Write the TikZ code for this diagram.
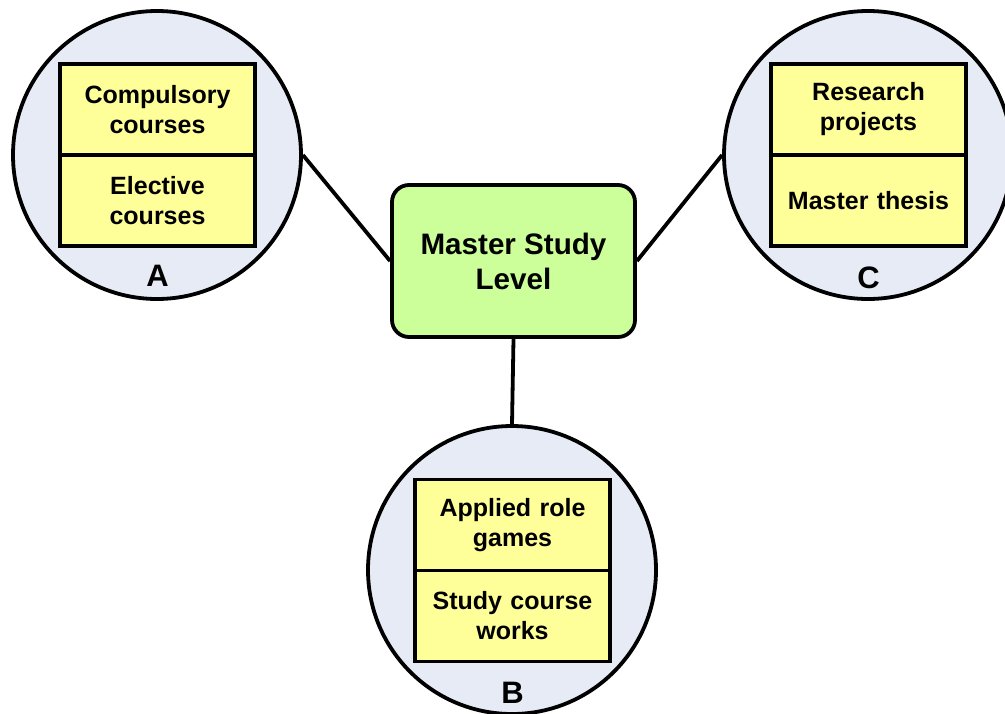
\documentclass[tikz,border=0pt]{standalone}
\usepackage{fontspec}
\setmainfont{Liberation Sans}
\usepackage{xcolor}
\usetikzlibrary{positioning}

\definecolor{ringfill}{RGB}{230,235,246}
\definecolor{itemfill}{RGB}{255,255,153}
\definecolor{levelfill}{RGB}{204,255,153}

\begin{document}
\begin{tikzpicture}[x=0.5pt, y=-0.5pt, line width=1.9pt,
  ring/.style={circle, draw, fill=ringfill, minimum size=144pt, inner sep=0pt},
  item/.style={rectangle, draw, fill=itemfill, minimum width=97.5pt, minimum height=45.5pt,
    text width=92pt, align=center, inner sep=0pt, outer sep=0pt,
    font=\fontsize{12.5}{15}\selectfont\bfseries},
  tag/.style={inner sep=0pt, font=\fontsize{15.5}{17}\selectfont\bfseries},
  level/.style={rectangle, draw, fill=levelfill, rounded corners=8.5pt,
    minimum width=121.5pt, minimum height=76pt, align=center,
    font=\fontsize{14.8}{17.5}\selectfont\bfseries}]
  \useasboundingbox (0,0) rectangle (1005,713);
  % Circles
  \node[ring] (ringA) at (157,155) {};
  \node[ring] (ringC) at (868,155) {};
  \node[ring] (ringB) at (512,570) {};
  % Group A
  \node[item] (a1) at (157.5,109.5) {Compulsory\\courses};
  \node[item, below=0pt of a1] (a2) {Elective\\courses};
  \node[tag, below=8.5pt of a2] (labA) {A};
  % Group C
  \node[item] (c1) at (868.5,109.5) {Research\\projects};
  \node[item, below=0pt of c1] (c2) {Master thesis};
  \node[tag, below=9.5pt of c2] (labC) {C};
  % Group B
  \node[item] (b1) at (512.5,525) {Applied role\\games};
  \node[item, below=0pt of b1] (b2) {Study course\\works};
  \node[tag, below=9.5pt of b2] (labB) {B};
  % Centre
  \node[level] (master) at (513.5,261) {Master Study\\Level};
  % Links
  \draw (ringA.east) -- (master.west);
  \draw (ringC.west) -- (master.east);
  \draw (master.south) -- (ringB.north);
\end{tikzpicture}
\end{document}
